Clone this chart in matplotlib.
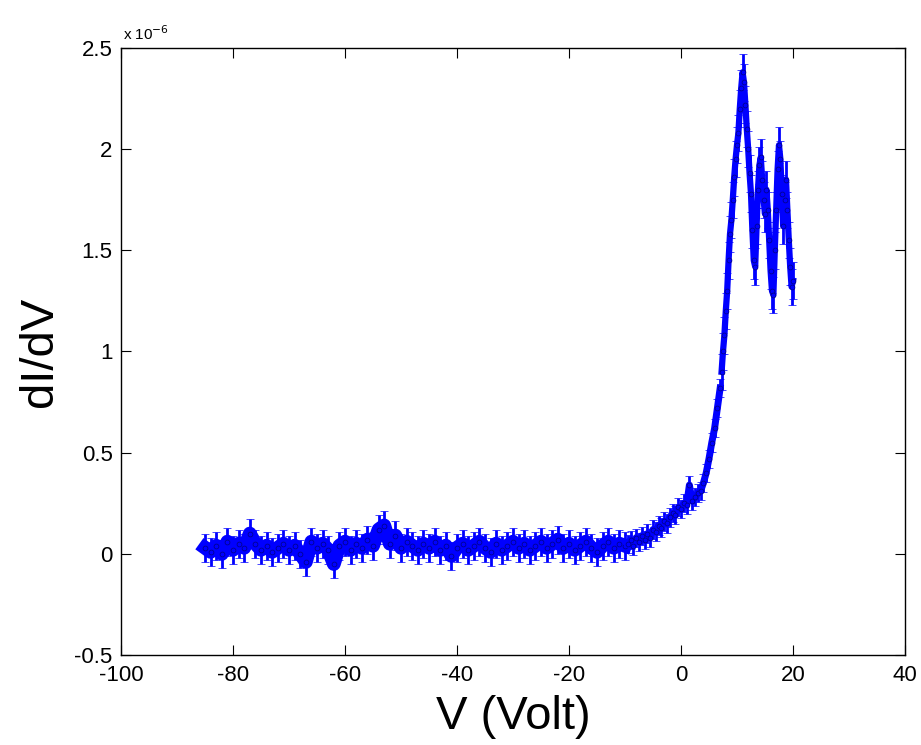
import numpy as np
import matplotlib
matplotlib.use("Agg")
import matplotlib.pyplot as plt
from matplotlib.ticker import FormatStrFormatter

plt.rcParams['font.family'] = ['Liberation Sans', 'DejaVu Sans']
plt.rcParams['axes.unicode_minus'] = False

# dI/dV in units of 1e-6
v_flat = np.arange(-85, -9, 1.0)
g_flat = [0.03, 0.01, 0.04, 0.00, 0.06, 0.02, 0.05, 0.03, 0.10, 0.05,
          0.02, 0.04, 0.01, 0.03, 0.05, 0.02, 0.04, 0.00, -0.04, 0.06,
          0.03, 0.05, 0.02, -0.05, 0.04, 0.06, 0.02, 0.05, 0.03, 0.07,
          0.04, 0.12, 0.14, 0.05, 0.09, 0.03, 0.06, 0.04, 0.02, 0.05,
          0.03, 0.06, 0.02, 0.04, -0.01, 0.03, 0.05, 0.02, 0.04, 0.06,
          0.03, 0.01, 0.05, 0.02, 0.04, 0.06, 0.03, 0.05, 0.02, 0.04,
          0.06, 0.03, 0.05, 0.07, 0.03, 0.05, 0.02, 0.04, 0.06, 0.03,
          0.01, 0.04, 0.06, 0.03, 0.05, 0.04]

v_rise = np.arange(-9.5, 7.01, 0.5)
g_rise = [0.05, 0.07, 0.04, 0.08, 0.06, 0.09, 0.07, 0.10, 0.08, 0.12,
          0.11, 0.14, 0.13, 0.16, 0.15, 0.18, 0.20, 0.19, 0.23, 0.22,
          0.25, 0.24, 0.34, 0.26, 0.28, 0.30, 0.31, 0.35, 0.40, 0.47,
          0.55, 0.62, 0.72, 0.82]

v_peak = np.arange(7.25, 20.01, 0.25)
g_peak = [0.90, 1.00, 1.08, 1.20, 1.30, 1.45, 1.58, 1.65, 1.75, 1.86,
          1.95, 2.02, 2.08, 2.20, 2.30, 2.38, 2.33, 2.22, 2.10, 2.00,
          1.88, 1.78, 1.60, 1.45, 1.42, 1.62, 1.80, 1.92, 1.96, 1.85,
          1.75, 1.68, 1.80, 1.70, 1.55, 1.40, 1.30, 1.28, 1.50, 1.70,
          1.90, 2.02, 1.95, 1.78, 1.62, 1.75, 1.85, 1.70, 1.55, 1.42,
          1.32, 1.35]

err_flat = 0.07
err_rise = 0.045
err_peak = 0.09

fig = plt.figure(figsize=(9.21, 7.45), dpi=100)
ax = fig.add_axes([0.1314, 0.1208, 0.8512, 0.8148])

for v, g, e, w in [(v_flat, g_flat, err_flat, 10), (v_rise, g_rise, err_rise, 5),
                   (v_peak, g_peak, err_peak, 4.5)]:
    ax.errorbar(v, g, yerr=e, fmt='.-', color='#0000ff', ms=7, lw=w,
                elinewidth=2.0, capsize=3, capthick=1.5, mec='#00007f', mew=0.5)

ax.set_xlim(-100, 40)
ax.set_ylim(-0.5, 2.5)
ax.set_xticks(np.arange(-100, 41, 20))
ax.set_yticks(np.arange(-0.5, 2.51, 0.5))
ax.yaxis.set_major_formatter(FormatStrFormatter('%g'))
ax.tick_params(direction='in', top=True, right=True, labelsize=16, length=7)
ax.tick_params(axis='x', pad=7)
ax.tick_params(axis='y', pad=6)
for s in ax.spines.values():
    s.set_linewidth(1.0)

ax.text(0.003, 1.008, r'x 10$^{-6}$', transform=ax.transAxes, fontsize=11,
        ha='left', va='bottom')

ax.set_xlabel('V (Volt)', fontsize=34, va='top')
ax.xaxis.set_label_coords(0.5, -0.066)
ax.set_ylabel('dI/dV', fontsize=34)
ax.yaxis.set_label_coords(-0.075, 0.5)

fig.savefig('out.png', dpi=100)
